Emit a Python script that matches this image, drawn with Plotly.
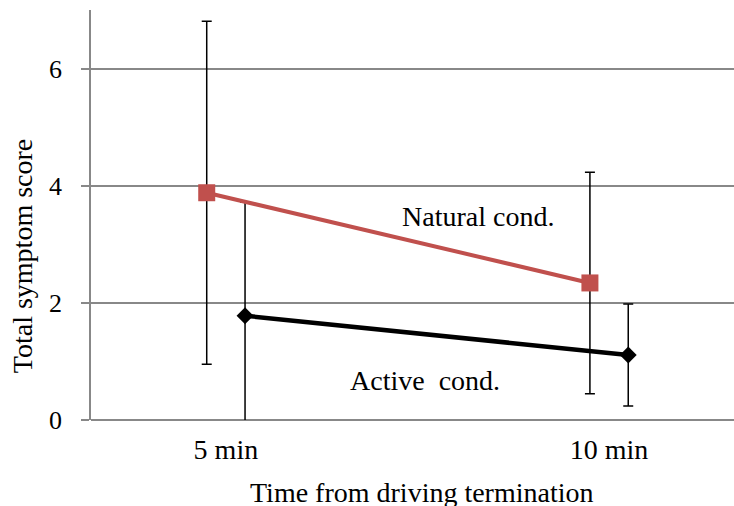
import plotly.graph_objects as go

categories = ["5 min", "10 min"]
natural_mean = [3.88, 2.34]
natural_err = [2.93, 1.89]
active_mean = [1.78, 1.11]
active_err = [1.94, 0.87]
y_ticks = [0, 2, 4, 6]

OFFSET = 0.05
idx = list(range(len(categories)))

fig = go.Figure()
fig.add_trace(go.Scatter(
    x=[i + OFFSET for i in idx], y=active_mean, mode="lines+markers",
    line=dict(color="black", width=4.5),
    marker=dict(symbol="diamond", size=13, color="black"),
    error_y=dict(type="data", array=active_err, color="black", thickness=1.5, width=5),
    showlegend=False,
))
fig.add_trace(go.Scatter(
    x=[i - OFFSET for i in idx], y=natural_mean, mode="lines+markers",
    line=dict(color="#C0504D", width=4),
    marker=dict(symbol="square", size=17, color="#C0504D"),
    error_y=dict(type="data", array=natural_err, color="black", thickness=1.5, width=5),
    showlegend=False,
))

font = dict(family="Liberation Serif, Times New Roman, serif", color="black")
FS = 28

fig.update_layout(
    width=734, height=506,
    margin=dict(l=91, r=0, t=10, b=86),
    plot_bgcolor="white", paper_bgcolor="white",
    font=dict(size=FS, **font),
    xaxis=dict(
        range=[-0.352, 1.326], tickvals=idx, ticktext=categories,
        showgrid=False, zeroline=False, showline=False, ticks="",
        tickfont=dict(size=FS, **font), ticklabelstandoff=10,
    ),
    yaxis=dict(
        range=[0, 7], tickvals=y_ticks, showgrid=True, gridcolor="#888888", gridwidth=1.5,
        zeroline=True, zerolinecolor="#888888", zerolinewidth=1.5,
        showline=True, linecolor="#888888", linewidth=1.5,
        ticks="outside", ticklen=8, tickcolor="#888888", tickwidth=1.5,
        tickfont=dict(size=26, **font), ticklabelstandoff=14,
    ),
    annotations=[
        dict(text="Total symptom score", xref="paper", yref="paper", x=-0.107, y=0.40,
             textangle=-90, showarrow=False, xanchor="center", yanchor="middle",
             font=dict(size=FS, **font)),
        dict(text="Time from driving termination", xref="paper", yref="paper", x=0.515, y=-0.176,
             showarrow=False, xanchor="center", yanchor="middle", font=dict(size=FS, **font)),
        dict(text="Natural cond.", xref="x", yref="y", x=0.658, y=3.47, showarrow=False,
             xanchor="center", yanchor="middle", font=dict(size=FS, **font)),
        dict(text="Active\u00a0 cond.", xref="x", yref="y", x=0.52, y=0.67, showarrow=False,
             xanchor="center", yanchor="middle", font=dict(size=FS, **font)),
    ],
)

fig.write_html(
    "out.html",
    config={"displayModeBar": False},
    post_script=(
        "document.body.style.margin='0';"
        "document.body.style.overflow='hidden';"
        "document.documentElement.style.overflow='hidden';"
    ),
)
